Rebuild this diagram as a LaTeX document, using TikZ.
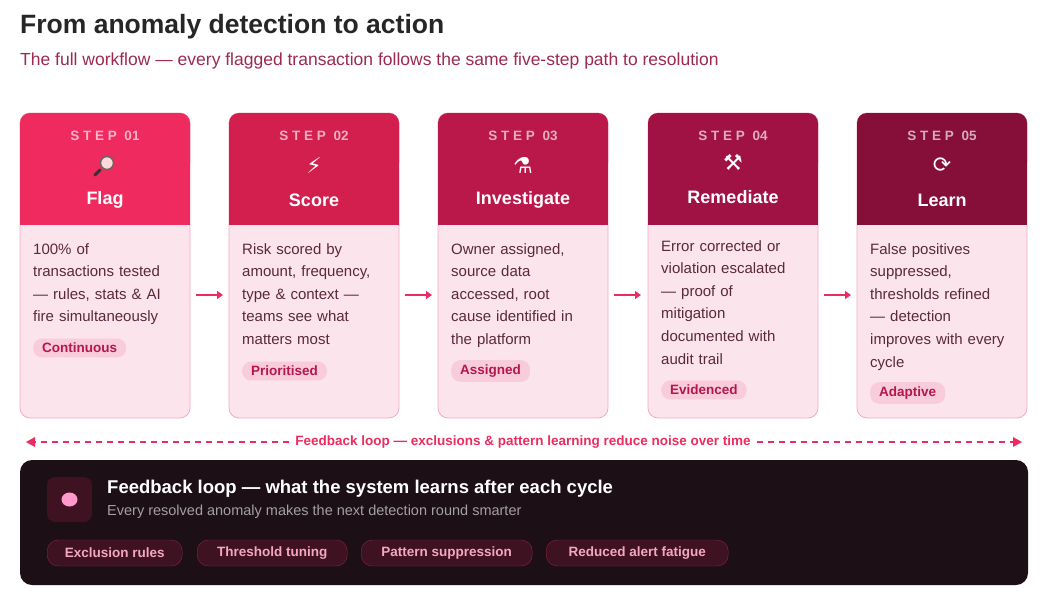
\documentclass[tikz,border=0pt]{standalone}
\usepackage{fontspec}
\setmainfont{Liberation Sans}
\newfontfamily\sym{DejaVu Sans}
\usetikzlibrary{arrows.meta,calc}
\begin{document}
\begin{tikzpicture}[x=1pt,y=-1pt,
 body/.style={rounded corners=10pt,fill=bodyc,draw=borderc,line width=0.8pt},
 steplbl/.style={font=\fontsize{13.5}{15}\selectfont\bfseries,text=white,text opacity=0.65},
 ttl/.style={font=\fontsize{18}{20}\selectfont\bfseries,text=white},
 ico/.style={font=\fontsize{22}{24}\sym,text=white},
 txt/.style={font=\fontsize{15}{22.6}\selectfont,text=bodytxt,anchor=north west,align=left,text width=165pt,inner sep=0pt},
 tag/.style={font=\fontsize{13.5}{15}\selectfont\bfseries,text=tagtxt,fill=tagbg,rounded corners=9pt,inner xsep=9pt,inner ysep=4.5pt,anchor=west},
 arr/.style={draw=pinkc,line width=1.4pt,-{Triangle[length=6pt,width=8pt]}},
 dtag/.style={font=\fontsize{13.5}{15}\selectfont\bfseries,text=dtagtxt,fill=dtagbg,draw=dtagbd,rounded corners=11pt,minimum height=26pt,inner xsep=0pt,anchor=west}]
\definecolor{bodyc}{HTML}{FCE4EC}\definecolor{borderc}{HTML}{F4A9C2}
\definecolor{bodytxt}{HTML}{5A2A3A}\definecolor{tagbg}{HTML}{F8CCDA}
\definecolor{tagtxt}{HTML}{B5174D}\definecolor{pinkc}{HTML}{EC2C60}
\definecolor{dark}{HTML}{1C0F16}\definecolor{dtagbg}{HTML}{3E1221}
\definecolor{dtagbd}{HTML}{8A2344}\definecolor{dtagtxt}{HTML}{F4A7C0}
\definecolor{h1}{HTML}{EE2A5E}\definecolor{h2}{HTML}{D21F4D}\definecolor{h3}{HTML}{BA174B}
\definecolor{h4}{HTML}{A01244}\definecolor{h5}{HTML}{850F38}\definecolor{subc}{HTML}{9C2A4E}
\useasboundingbox (0,0) rectangle (1055,598);
\node[anchor=west,inner sep=0pt,font=\fontsize{26.5}{28}\selectfont\bfseries,text=black!85] (title) at (20,27) {From anomaly detection to action};
\node[anchor=west,inner sep=0pt,font=\fontsize{17.5}{20}\selectfont,text=subc] (sub) at (20,61) {The full workflow — every flagged transaction follows the same five-step path to resolution};
% cards
\foreach \i/\x/\c/\s/\t/\ic/\dy in {1/20/h1/01/Flag/{}/0,2/229/h2/02/Score/⚡/0,3/438/h3/03/Investigate/⚗/0,4/648/h4/04/Remediate/⚒/-3,5/857/h5/05/Learn/⟳/0}{
 \fill[body] (\x,113) rectangle ++(170,305);
 \fill[\c,rounded corners=10pt] (\x,113) rectangle ++(170,60);
 \fill[\c] (\x,160) rectangle ++(170,65);
 \node[steplbl] (s\i) at (\x+85,136) {S T E P\ \ \s};
 \node[ico] (i\i) at (\x+85,165+\dy) {\ic};
 \node[ttl] (t\i) at (\x+85,200+\dy) {\t};
}
% magnifier drawn
\draw[black!80,line width=3pt,line cap=round] (100,170) -- (95,175);
\draw[fill=pink!60,draw=black!60,line width=1.5pt] (107,163) circle (6.5pt);
\node[txt] (b1) at (33,243) {100\% of\\transactions tested\\— rules, stats \& AI\\fire simultaneously};
\node[tag] (g1) at (33,348) {Continuous};
\node[txt] (b2) at (242,243) {Risk scored by\\amount, frequency,\\type \& context —\\teams see what\\matters most};
\node[tag] (g2) at (242,371) {Prioritised};
\node[txt] (b3) at (451,243) {Owner assigned,\\source data\\accessed, root\\cause identified in\\the platform};
\node[tag] (g3) at (451,371) {Assigned};
\node[txt] (b4) at (661,240) {Error corrected or\\violation escalated\\— proof of\\mitigation\\documented with\\audit trail};
\node[tag] (g4) at (661,390) {Evidenced};
\node[txt] (b5) at (870,243) {False positives\\suppressed,\\thresholds refined\\— detection\\improves with every\\cycle};
\node[tag] (g5) at (870,393) {Adaptive};
\foreach \x [count=\k] in {196,405,614,824}{
 \coordinate (a\k) at (\x,295); \coordinate (e\k) at (\x+27,295);
 \draw[arr] (a\k) -- (e\k);}
% feedback line
\node[font=\fontsize{13.5}{15}\selectfont\bfseries,text=pinkc,fill=white,inner xsep=6pt] (fb) at (523,442) {Feedback loop — exclusions \& pattern learning reduce noise over time};
\coordinate (L) at (26,442); \coordinate (R) at (1022,442);
\draw[pinkc,line width=1.4pt,dash pattern=on 6pt off 5pt] (fb.west) -- ($(L)+(8,0)$) ;
\draw[pinkc,line width=1.4pt,dash pattern=on 6pt off 5pt] (fb.east) -- ($(R)-(8,0)$);
\fill[pinkc] (L) -- ++(9,-5) -- ++(0,10) -- cycle;
\fill[pinkc] (R) -- ++(-9,-5) -- ++(0,10) -- cycle;
% dark panel
\fill[dark,rounded corners=12pt] (20,460) rectangle (1028,585);
\fill[dtagbg,rounded corners=8pt] (47,477) rectangle (92,522);
\fill[pink!80!magenta] (69.5,499.5) ellipse (8pt and 7pt);
\node[anchor=west,inner sep=0pt,font=\fontsize{18.5}{20}\selectfont\bfseries,text=white] (pt) at (107,489) {Feedback loop — what the system learns after each cycle};
\node[anchor=west,inner sep=0pt,font=\fontsize{14.5}{16}\selectfont,text=white!60!dark] (ps) at (107,512) {Every resolved anomaly makes the next detection round smarter};
\node[dtag,minimum width=135pt] (d1) at (47,553) {Exclusion rules};
\node[dtag,minimum width=150pt] (d2) at (197,553) {Threshold tuning};
\node[dtag,minimum width=171pt] (d3) at (361,553) {Pattern suppression};
\node[dtag,minimum width=182pt] (d4) at (546,553) {Reduced alert fatigue};
\end{tikzpicture}
\end{document}
